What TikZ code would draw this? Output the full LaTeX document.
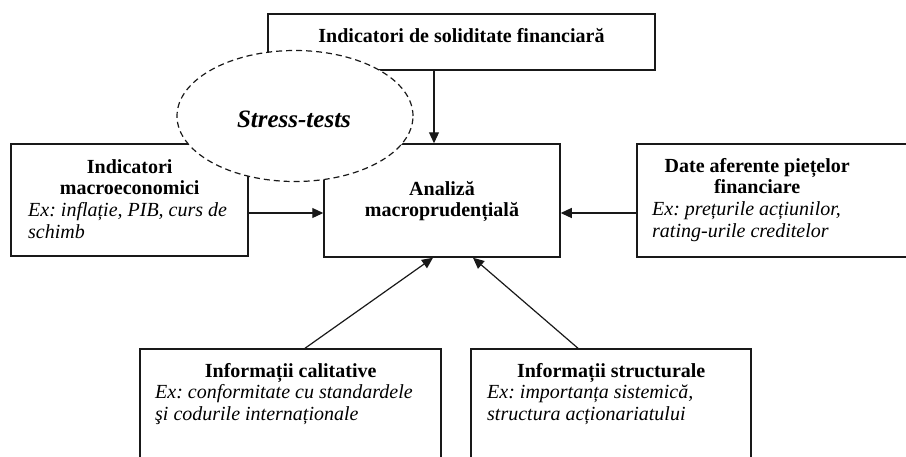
\documentclass[tikz,border=0pt]{standalone}
\usepackage{fontspec}
\setmainfont{Liberation Serif}
\usetikzlibrary{arrows.meta,shapes.geometric}
\frenchspacing

% heading lines centred, example lines flush left, first baseline on the anchor
\newcommand\panetext[3]{\parbox[t]{#1}{\centering\bfseries #2\par
  \raggedright\mdseries\itshape #3}}

\tikzset{
  frame/.style={draw=black!90, line width=1.5pt, rectangle, inner sep=0pt, fill=white},
  link/.style={draw=black!90, line width=1.2pt, -{Triangle[length=11pt,width=10pt]}},
  txt/.style={inner sep=0pt, anchor=base west, font=\fontsize{20}{21.7}\selectfont},
  ctxt/.style={inner sep=0pt, anchor=base, font=\fontsize{20}{21.7}\selectfont\bfseries},
  cloud/.style={draw=black!90, line width=1.2pt, dash pattern=on 6pt off 4pt,
    ellipse, fill=white, inner sep=0pt},
}

\begin{document}
\begin{tikzpicture}[x=1pt, y=-1pt]
  \useasboundingbox (0,0) rectangle (906,456);
  \clip (0,0) rectangle (906,456);

  % boxes
  \node[frame, minimum width=387pt, minimum height=56pt]  (sol) at (461.5,42) {};
  \node[frame, minimum width=237pt, minimum height=112pt] (mac) at (129.5,200) {};
  \node[frame, minimum width=236pt, minimum height=113pt] (ana) at (442,200.5) {};
  \node[frame, minimum width=303pt, minimum height=113pt] (mkt) at (788.5,200.5) {};
  \node[frame, minimum width=301pt, minimum height=131pt] (cal) at (290.5,414.5) {};
  \node[frame, minimum width=280pt, minimum height=131pt] (str) at (611,414.5) {};

  % stress-test cloud laid over the corners
  \node[cloud, minimum width=236pt, minimum height=131pt] (st) at (295,116) {};

  % texts
  \node[ctxt] (solT) at (461.5,42) {Indicatori de soliditate financiară};
  \node[ctxt, font=\fontsize{25}{27}\selectfont\bfseries\itshape] (stT) at (294,127) {Stress-tests};
  \node[ctxt] (anaT) at (442,195) {\parbox[t]{220pt}{\centering Analiză\\macroprudențială}};
  \node[txt] (macT) at (28,173) {\panetext{203pt}{Indicatori\\macroeconomici}%
    {\mbox{Ex: inflație, PIB, curs de}\\schimb}};
  \node[txt] (mktT) at (652,172) {\panetext{210pt}{Date aferente piețelor\\financiare}%
    {\mbox{Ex: prețurile acțiunilor,}\\\mbox{rating-urile creditelor}}};
  \node[txt] (calT) at (155,377) {\panetext{271pt}{Informații calitative}%
    {\mbox{Ex: conformitate cu standardele}\\\mbox{şi codurile internaționale}}};
  \node[txt] (strT) at (487,377) {\panetext{248pt}{Informații structurale}%
    {\mbox{Ex: importanța sistemică,}\\\mbox{structura acționariatului}}};

  % connector guides
  \coordinate (ta) at (434,0);
  \coordinate (ml) at (0,213);
  \coordinate (c1) at (305,0);
  \coordinate (c2) at (433,0);
  \coordinate (c3) at (578,0);
  \coordinate (c4) at (473,0);

  % connectors
  \draw[link] (sol.south -| ta) -- (ana.north -| ta);
  \draw[link] (mac.east |- ml) -- (ana.west |- ml);
  \draw[link] (mkt.west |- ml) -- (ana.east |- ml);
  \draw[link] (cal.north -| c1) -- (ana.south -| c2);
  \draw[link] (str.north -| c3) -- (ana.south -| c4);
\end{tikzpicture}
\end{document}
